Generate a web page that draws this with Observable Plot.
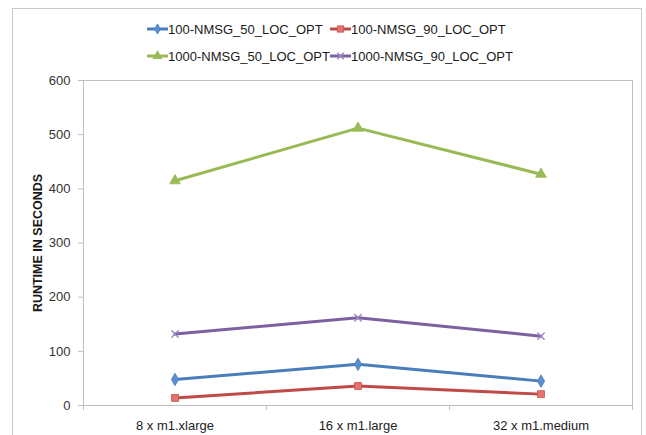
<!DOCTYPE html>
<html>
<head>
<meta charset="utf-8">
<script src="https://cdn.jsdelivr.net/npm/d3@7"></script>
<script src="https://cdn.jsdelivr.net/npm/@observablehq/plot@0.6"></script>
<style>
  html, body { margin: 0; padding: 0; background: #fff; }
  #wrap { position: relative; width: 646px; height: 435px; overflow: hidden; font-family: "Liberation Sans", Arial, sans-serif; }
  #outer { position: absolute; left: 12px; top: 8px; width: 630px; height: 460px; border: 1.5px solid #c9c9c9; box-sizing: border-box; }
  #chart { position: absolute; left: 0; top: 0; }
  .leg { position: absolute; display: flex; align-items: center; font-size: 13px; color: #1a1a1a; white-space: nowrap; }
  .leg svg { display: block; }
</style>
</head>
<body>
<div id="wrap">
  <div id="outer"></div>
  <div id="chart"></div>
</div>
<script>
// Cluster configurations on the x axis
const configs = ["8 x m1.xlarge", "16 x m1.large", "32 x m1.medium"];

// Series names
const seriesNames = ["100-NMSG_50_LOC_OPT", "100-NMSG_90_LOC_OPT", "1000-NMSG_50_LOC_OPT", "1000-NMSG_90_LOC_OPT"];

// Runtime in seconds, one value per configuration
const nmsg100loc50 = [48, 76, 45];
const nmsg100loc90 = [14, 36, 21];
const nmsg1000loc50 = [415, 512, 427];
const nmsg1000loc90 = [132, 162, 128];

// Y axis ticks
const yTicks = [0, 100, 200, 300, 400, 500, 600];

const seriesValues = [nmsg100loc50, nmsg100loc90, nmsg1000loc50, nmsg1000loc90];

const styles = [
  {line: "#4a7ebb", fill: "#5b8fd0", stroke: "#4a7ebb", symbol: "diamond", r: 3.8, lr: 30},
  {line: "#be4b48", fill: "#e8716d", stroke: "#c0504d", symbol: "square", r: 3.9, lr: 40},
  {line: "#98b954", fill: "#9bbb59", stroke: "#9bbb59", symbol: "triangle", r: 4.0, lr: 36},
  {line: "#7d60a0", fill: "none", stroke: "#9b87bd", symbol: "times", r: 3.4, lr: 30}
];

const rows = seriesNames.flatMap((name, s) =>
  seriesValues[s].map((v, i) => ({series: name, i, v}))
);

const boundaries = configs.map((_, i) => i - 0.5).concat([configs.length - 0.5]);

const marks = [
  Plot.frame({stroke: "#bfbfbf"}),
  Plot.axisY({ticks: yTicks, tickSize: 5, tickPadding: 8, label: null, stroke: "#bfbfbf", fill: "#333", fontSize: 13}),
  Plot.axisX({ticks: boundaries, tickSize: 5, tickFormat: () => "", stroke: "#bfbfbf", label: null}),
  Plot.axisX({ticks: configs.map((_, i) => i), tickSize: 0, tickPadding: 15, tickFormat: i => configs[i], fill: "#222", fontSize: 13, label: null}),
  Plot.ruleY([0], {stroke: "#bfbfbf"}),
  Plot.text(["RUNTIME IN SECONDS"], {frameAnchor: "left", textAnchor: "middle", rotate: -90, dx: -46, fontWeight: "bold", fontSize: 12.5, fill: "#1a1a1a"})
];

seriesNames.forEach((name, s) => {
  const st = styles[s];
  const data = rows.filter(d => d.series === name);
  marks.push(Plot.line(data, {x: "i", y: "v", stroke: st.line, strokeWidth: 3}));
  marks.push(Plot.dot(data, {x: "i", y: "v", symbol: () => st.symbol, r: st.r, fill: st.fill, stroke: st.stroke, strokeWidth: st.symbol === "times" ? 1.4 : 0.8}));
});

const chart = Plot.plot({
  width: 646,
  height: 435,
  marginTop: 80,
  marginBottom: 30,
  marginLeft: 83,
  marginRight: 14,
  style: {fontFamily: "Liberation Sans, Arial, sans-serif", background: "transparent"},
  x: {type: "linear", domain: [-0.5, configs.length - 0.5], axis: null},
  y: {domain: [0, 600], axis: null},
  symbol: {type: "identity"},
  marks
});
document.getElementById("chart").appendChild(chart);

// Legend: two rows, two entries each
const legendPos = [[147, 29], [330, 29], [147, 56], [330, 56]];
const wrap = document.getElementById("wrap");
seriesNames.forEach((name, s) => {
  const st = styles[s];
  const el = document.createElement("div");
  el.className = "leg";
  el.style.left = legendPos[s][0] + "px";
  el.style.top = (legendPos[s][1] - 9) + "px";
  el.style.height = "18px";
  const sym = d3.symbol().type({
    diamond: d3.symbolDiamond, square: d3.symbolSquare, triangle: d3.symbolTriangle, times: d3.symbolTimes
  }[st.symbol]).size(st.lr)();
  el.innerHTML =
    `<svg width="21" height="18"><line x1="0" x2="21" y1="9" y2="9" stroke="${st.line}" stroke-width="3"/>` +
    `<path transform="translate(10.5,9)" d="${sym}" fill="${st.fill}" stroke="${st.stroke}" stroke-width="${st.symbol === "times" ? 1.4 : 0.8}"/></svg>` +
    `<span>${name}</span>`;
  wrap.appendChild(el);
});
</script>
</body>
</html>
